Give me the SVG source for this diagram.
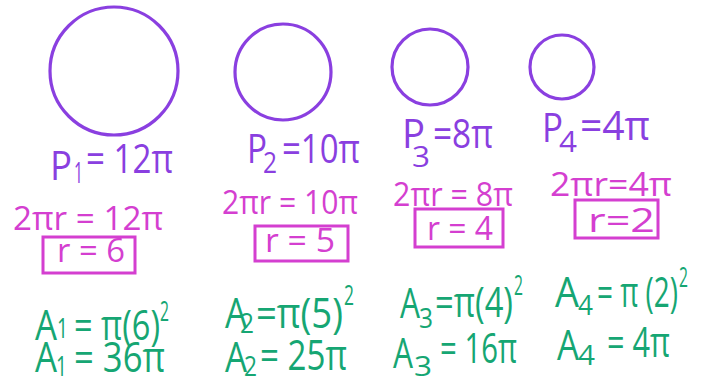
<svg xmlns="http://www.w3.org/2000/svg" width="701" height="385" viewBox="0 0 701 385">
<style>
.c{fill:none;stroke:#8a3fe0;stroke-width:3.2}
text{font-family:"Open Sans","Liberation Sans",sans-serif}
.p{fill:#8a3fe0;font-size:40px}
.ps{fill:#8a3fe0;font-size:30px}
.m{fill:#d43fd0;font-size:32px}
.b{fill:none;stroke:#d43fd0;stroke-width:3}
.g{fill:#16a673;font-size:42px}
.gs{fill:#16a673;font-size:28px}
</style>
<rect width="701" height="385" fill="#fff"/>
<g id="col1">
<circle class="c" cx="114" cy="71" r="64"/>
<text class="p" x="50" y="180" textLength="22" lengthAdjust="spacingAndGlyphs" font-size="52">P</text>
<text class="ps" x="74" y="183" textLength="9" lengthAdjust="spacingAndGlyphs">1</text>
<text class="p" x="86" y="173" textLength="87" lengthAdjust="spacingAndGlyphs">= 12π</text>
<text class="m" x="13" y="230" textLength="150" lengthAdjust="spacingAndGlyphs">2πr = 12π</text>
<rect class="b" x="43" y="237" width="92" height="36"/>
<text class="m" x="57" y="262" textLength="68" lengthAdjust="spacingAndGlyphs">r = 6</text>
<text class="g" x="35" y="340" textLength="22" lengthAdjust="spacingAndGlyphs">A</text>
<text class="gs" x="57" y="338" textLength="11" lengthAdjust="spacingAndGlyphs">1</text>
<text class="g" x="74" y="340" textLength="86" lengthAdjust="spacingAndGlyphs">= π(6)</text>
<text class="gs" x="160" y="321" textLength="9" lengthAdjust="spacingAndGlyphs">2</text>
<text class="g" x="35" y="372" textLength="22" lengthAdjust="spacingAndGlyphs">A</text>
<text class="gs" x="56" y="376" textLength="11" lengthAdjust="spacingAndGlyphs">1</text>
<text class="g" x="74" y="372" textLength="91" lengthAdjust="spacingAndGlyphs">= 36π</text>
</g>
<g id="col2">
<circle class="c" cx="283" cy="72" r="48"/>
<text class="p" x="247" y="163" textLength="20" lengthAdjust="spacingAndGlyphs" font-size="46">P</text>
<text class="ps" x="263" y="173" textLength="14" lengthAdjust="spacingAndGlyphs">2</text>
<text class="p" x="282" y="163" textLength="78" lengthAdjust="spacingAndGlyphs">=10π</text>
<text class="m" x="222" y="214" textLength="136" lengthAdjust="spacingAndGlyphs">2πr = 10π</text>
<rect class="b" x="255" y="226" width="93" height="35"/>
<text class="m" x="265" y="252" textLength="70" lengthAdjust="spacingAndGlyphs">r = 5</text>
<text class="g" x="225" y="328" textLength="22" lengthAdjust="spacingAndGlyphs">A</text>
<text class="gs" x="240" y="333" textLength="14" lengthAdjust="spacingAndGlyphs">2</text>
<text class="g" x="256" y="328" textLength="87" lengthAdjust="spacingAndGlyphs">=π(5)</text>
<text class="gs" x="344" y="305" textLength="10" lengthAdjust="spacingAndGlyphs">2</text>
<text class="g" x="225" y="372" textLength="22" lengthAdjust="spacingAndGlyphs">A</text>
<text class="gs" x="244" y="376" textLength="13" lengthAdjust="spacingAndGlyphs">2</text>
<text class="g" x="260" y="370" textLength="87" lengthAdjust="spacingAndGlyphs">= 25π</text>
</g>
<g id="col3">
<circle class="c" cx="430" cy="67" r="38"/>
<text class="p" x="402" y="148" textLength="23" lengthAdjust="spacingAndGlyphs" font-size="46">P</text>
<text class="ps" x="412" y="167" textLength="18" lengthAdjust="spacingAndGlyphs">3</text>
<text class="p" x="433" y="148" textLength="60" lengthAdjust="spacingAndGlyphs">=8π</text>
<text class="m" x="393" y="206" textLength="120" lengthAdjust="spacingAndGlyphs">2πr = 8π</text>
<rect class="b" x="415" y="209" width="88" height="38"/>
<text class="m" x="427" y="240" textLength="66" lengthAdjust="spacingAndGlyphs">r = 4</text>
<text class="g" x="400" y="318" textLength="20" lengthAdjust="spacingAndGlyphs">A</text>
<text class="gs" x="419" y="328" textLength="14" lengthAdjust="spacingAndGlyphs">3</text>
<text class="g" x="435" y="317" textLength="78" lengthAdjust="spacingAndGlyphs">=π(4)</text>
<text class="gs" x="514" y="295" textLength="9" lengthAdjust="spacingAndGlyphs">2</text>
<text class="g" x="393" y="368" textLength="20" lengthAdjust="spacingAndGlyphs">A</text>
<text class="gs" x="414" y="376" textLength="18" lengthAdjust="spacingAndGlyphs">3</text>
<text class="g" x="440" y="363" textLength="77" lengthAdjust="spacingAndGlyphs">= 16π</text>
</g>
<g id="col4">
<circle class="c" cx="562" cy="67" r="32"/>
<text class="p" x="542" y="142" textLength="21" lengthAdjust="spacingAndGlyphs" font-size="46">P</text>
<text class="ps" x="559" y="152" textLength="18" lengthAdjust="spacingAndGlyphs">4</text>
<text class="p" x="580" y="140" textLength="70" lengthAdjust="spacingAndGlyphs">=4π</text>
<text class="m" x="550" y="196" textLength="122" lengthAdjust="spacingAndGlyphs">2πr=4π</text>
<rect class="b" x="575" y="200" width="83" height="38"/>
<text class="m" x="588" y="232" textLength="67" lengthAdjust="spacingAndGlyphs">r=2</text>
<text class="g" x="555" y="307" textLength="24" lengthAdjust="spacingAndGlyphs">A</text>
<text class="gs" x="578" y="315" textLength="15" lengthAdjust="spacingAndGlyphs">4</text>
<text class="g" x="597" y="307" textLength="81" lengthAdjust="spacingAndGlyphs">= π (2)</text>
<text class="gs" x="679" y="287" textLength="9" lengthAdjust="spacingAndGlyphs">2</text>
<text class="g" x="557" y="360" textLength="22" lengthAdjust="spacingAndGlyphs">A</text>
<text class="gs" x="578" y="365" textLength="17" lengthAdjust="spacingAndGlyphs">4</text>
<text class="g" x="607" y="357" textLength="63" lengthAdjust="spacingAndGlyphs">= 4π</text>
</g>
</svg>
